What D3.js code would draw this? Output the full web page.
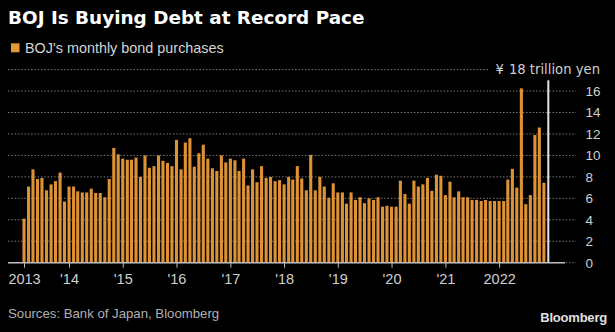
<!DOCTYPE html>
<html>
<head>
<meta charset="utf-8">
<script src="https://cdn.jsdelivr.net/npm/d3@7"></script>
<style>
  html, body { margin: 0; padding: 0; background: #000; }
  svg { display: block; }
</style>
</head>
<body>
<svg id="chart" width="615" height="332"></svg>
<script>
// Monthly BOJ bond purchases, trillion yen (March 2013 – November 2022)
const firstMonth = new Date(2013, 2, 1);
const purchases = [
  4.1, 7.1, 8.7, 7.8, 7.9, 6.75, 7.3, 7.6, 8.4, 5.7,
  7.1, 7.1, 6.65, 6.55, 6.55, 6.9, 6.5, 6.5, 6.1, 7.8, 10.7, 10.1,
  9.7, 9.6, 9.6, 9.8, 8.0, 10.0, 8.85, 9.0, 10.0, 9.5, 9.3, 9.0,
  11.45, 8.7, 11.2, 11.6, 8.95, 10.2, 11.0, 9.7, 8.8, 8.55, 10.0, 9.35,
  9.7, 9.55, 8.55, 9.7, 7.2, 8.7, 7.5, 9.0, 7.9, 8.0, 7.6, 7.7,
  7.3, 8.0, 7.75, 9.0, 7.85, 6.75, 10.05, 6.75, 8.0, 7.1, 6.05, 7.4,
  6.55, 6.55, 5.5, 6.55, 5.85, 6.1, 5.55, 6.0, 5.85, 6.1, 5.22, 5.3,
  5.22, 5.22, 7.65, 6.4, 5.5, 7.65, 7.1, 7.3, 7.9, 6.7, 8.2, 8.1,
  6.3, 7.55, 6.1, 6.65, 6.1, 6.1, 5.85, 5.85, 5.75, 5.85, 5.75, 5.75,
  5.75, 5.75, 7.75, 8.75, 7.0, 16.25, 5.45, 6.3, 11.9, 12.6, 7.45
];
// Current-month marker (December 2022)
const markerMonth = new Date(2022, 11, 1);
const markerValue = 17;

const xTickDates = [
  new Date(2013, 2, 1), new Date(2014, 0, 1), new Date(2015, 0, 1), new Date(2016, 0, 1),
  new Date(2017, 0, 1), new Date(2018, 0, 1), new Date(2019, 0, 1), new Date(2020, 0, 1),
  new Date(2021, 0, 1), new Date(2022, 0, 1)
];
const xTickLabels = ["2013", "'14", "'15", "'16", "'17", "'18", "'19", "'20", "'21", "2022"];
const yTicks = [0, 2, 4, 6, 8, 10, 12, 14, 16];
const yUnitCurrency = "¥";
const yUnitLabel = "18 trillion yen";
const yUnitValue = 18;

const title = "BOJ Is Buying Debt at Record Pace";
const legendLabel = "BOJ's monthly bond purchases";
const sourceText = "Sources: Bank of Japan, Bloomberg";
const brand = "Bloomberg";

const data = purchases.map((v, i) => ({ date: d3.timeMonth.offset(firstMonth, i), value: v }));

const svg = d3.select("#chart");
const sans = "'Liberation Sans', Arial, sans-serif";

const x = d3.scaleTime().domain([firstMonth, markerMonth]).range([24, 548.3]);
const y = d3.scaleLinear().domain([0, 18]).range([262.7, 69.6]);
const barW = 3.1;

// Title and legend
svg.append("text").attr("x", 8).attr("y", 23.5)
  .attr("fill", "#fff").attr("font-family", "'DejaVu Sans', sans-serif")
  .attr("font-weight", "bold").attr("font-size", 18.4).text(title);
svg.append("rect").attr("x", 11).attr("y", 43.3).attr("width", 8.5).attr("height", 9)
  .attr("fill", "#e39a35");
svg.append("text").attr("x", 25).attr("y", 53.3)
  .attr("fill", "#d4d4d4").attr("font-family", sans).attr("font-size", 14.4).text(legendLabel);

// Dotted gridlines
const grid = svg.append("g");
grid.selectAll("line.g").data(yTicks).join("line")
  .attr("x1", 8).attr("x2", 576)
  .attr("y1", d => y(d)).attr("y2", d => y(d))
  .attr("stroke", "#7a7a7a").attr("stroke-width", 1)
  .attr("stroke-dasharray", "1.5,1.8");
grid.append("line")
  .attr("x1", 8).attr("x2", 489)
  .attr("y1", y(yUnitValue)).attr("y2", y(yUnitValue))
  .attr("stroke", "#7a7a7a").attr("stroke-width", 1)
  .attr("stroke-dasharray", "1.5,1.8");

// Bars
svg.append("g").selectAll("rect").data(data).join("rect")
  .attr("x", d => x(d.date) - barW / 2)
  .attr("width", barW)
  .attr("y", d => y(d.value))
  .attr("height", d => y(0) - y(d.value))
  .attr("fill", "#dd9236");

// Current-month marker line
svg.append("line")
  .attr("x1", x(markerMonth)).attr("x2", x(markerMonth))
  .attr("y1", y(markerValue)).attr("y2", y(0))
  .attr("stroke", "#e6e6e6").attr("stroke-width", 2);

// X axis
const xAxis = d3.axisBottom(x).tickValues(xTickDates)
  .tickFormat((d, i) => xTickLabels[i]).tickSize(5).tickSizeOuter(0);
const gx = svg.append("g").attr("transform", `translate(0,${y(0)})`).call(xAxis);
gx.select(".domain").remove();
gx.selectAll(".tick line").attr("stroke", "#bdbdbd");
gx.selectAll(".tick text").attr("fill", "#cfcfcf").attr("font-family", sans)
  .attr("font-size", 14.5).attr("dy", "0.71em").attr("y", 11);
gx.append("line").attr("x1", 8).attr("x2", 565).attr("y1", 0).attr("y2", 0)
  .attr("stroke", "#bdbdbd").attr("stroke-width", 1.5);

// Y axis labels on the right
const yAxis = d3.axisRight(y).tickValues(yTicks).tickSize(0);
const gy = svg.append("g").attr("transform", "translate(585.5,0)").call(yAxis);
gy.select(".domain").remove();
gy.selectAll(".tick text").attr("x", 0).attr("fill", "#cfcfcf")
  .attr("font-family", sans).attr("font-size", 13.5);
const unit = svg.append("text").attr("x", 600).attr("y", y(yUnitValue)).attr("dy", "0.35em")
  .attr("text-anchor", "end").attr("fill", "#cfcfcf")
  .attr("font-family", "'DejaVu Sans', sans-serif").attr("font-size", 13.2);
unit.append("tspan").text(yUnitCurrency);
unit.append("tspan").attr("dx", 5).text(yUnitLabel);

// Footer
svg.append("text").attr("x", 8).attr("y", 318)
  .attr("fill", "#b0b0b0").attr("font-family", sans).attr("font-size", 13.2).text(sourceText);
svg.append("text").attr("x", 607).attr("y", 322).attr("text-anchor", "end")
  .attr("fill", "#e0e0e0").attr("font-family", sans).attr("font-weight", "bold")
  .attr("font-size", 13).attr("letter-spacing", -0.2).text(brand);
</script>
</body>
</html>
